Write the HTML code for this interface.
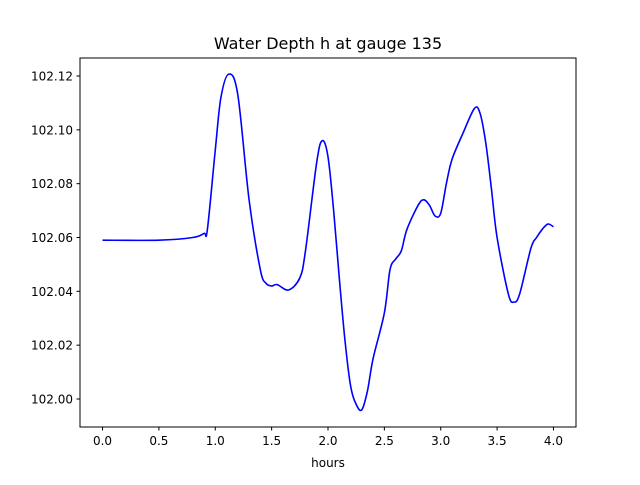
<!DOCTYPE html>
<html><head><meta charset="utf-8"><style>
body{margin:0;background:#fff}
svg text{font-family:"DejaVu Sans","Liberation Sans",sans-serif;fill:#000}
</style></head><body>
<svg width="640" height="480" viewBox="0 0 640 480" id="chart">
<rect width="640" height="480" fill="#fff"/>
<text x="328" y="49" font-size="16" text-anchor="middle">Water Depth h at gauge 135</text>
<g id="ticks"></g>
<path id="line" fill="none" stroke="#0000ff" stroke-width="1.6"/>
<rect x="80" y="58" width="496" height="369" fill="none" stroke="#000" stroke-width="1"/>
<text x="328" y="467" font-size="12" text-anchor="middle">hours</text>
</svg>
<script>
const times=[0,0.5,0.8,0.9,0.93,1.0,1.05,1.12,1.2,1.3,1.4,1.45,1.5,1.55,1.65,1.75,1.8,1.9,1.95,2.0,2.05,2.1,2.15,2.2,2.25,2.3,2.35,2.4,2.5,2.55,2.6,2.65,2.7,2.8,2.85,2.9,2.95,3.0,3.05,3.1,3.2,3.3,3.35,3.4,3.45,3.5,3.6,3.65,3.7,3.8,3.85,3.9,3.95,4.0];
const depth=[102.059,102.059,102.060,102.0615,102.063,102.0925,102.112,102.1207,102.113,102.074,102.048,102.043,102.042,102.0425,102.0405,102.045,102.055,102.088,102.096,102.090,102.070,102.045,102.022,102.005,101.998,101.996,102.003,102.015,102.032,102.048,102.052,102.055,102.063,102.072,102.074,102.072,102.068,102.069,102.080,102.089,102.099,102.108,102.106,102.095,102.078,102.060,102.039,102.036,102.039,102.056,102.060,102.063,102.065,102.064];
const xTicks=[0,0.5,1,1.5,2,2.5,3,3.5,4];
const xTickLabels=["0.0","0.5","1.0","1.5","2.0","2.5","3.0","3.5","4.0"];
const yTicks=[102.00,102.02,102.04,102.06,102.08,102.10,102.12];
const yTickLabels=["102.00","102.02","102.04","102.06","102.08","102.10","102.12"];
const X=t=>80+(t+0.2)/4.4*496;
const Y=v=>399-(v-102.0)/0.12*323;
const NS="http://www.w3.org/2000/svg";
const g=document.getElementById('ticks');
function mk(tag,attrs){const e=document.createElementNS(NS,tag);for(const k in attrs)e.setAttribute(k,attrs[k]);return e;}
xTicks.forEach((t,i)=>{
 const l=mk('line',{x1:X(t),x2:X(t),y1:427,y2:430.5,stroke:'#000'});
 
 
 g.appendChild(l);
 const tx=mk('text',{x:X(t),y:445,'font-size':12,'text-anchor':'middle'});
 
 
 tx.textContent=xTickLabels[i];g.appendChild(tx);
});
yTicks.forEach((v,i)=>{
 const l=mk('line',{x1:76.5,x2:80,y1:Y(v),y2:Y(v),stroke:'#000'});
 
 
 g.appendChild(l);
 const tx=mk('text',{x:73,y:Y(v)+4.5,'font-size':12,'text-anchor':'end'});
 
 
 tx.textContent=yTickLabels[i];g.appendChild(tx);
});
const P=times.map((t,i)=>[X(t),Y(depth[i])]);
let d='M'+P[0][0]+','+P[0][1];
for(let i=0;i<P.length-1;i++){
 const p0=P[Math.max(0,i-1)],p1=P[i],p2=P[i+1],p3=P[Math.min(P.length-1,i+2)];
 const c1=[p1[0]+(p2[0]-p0[0])/6,p1[1]+(p2[1]-p0[1])/6];
 const c2=[p2[0]-(p3[0]-p1[0])/6,p2[1]-(p3[1]-p1[1])/6];
 d+=' C'+c1[0]+','+c1[1]+' '+c2[0]+','+c2[1]+' '+p2[0]+','+p2[1];
}
document.getElementById('line').setAttribute('d',d);
</script>
</body></html>
